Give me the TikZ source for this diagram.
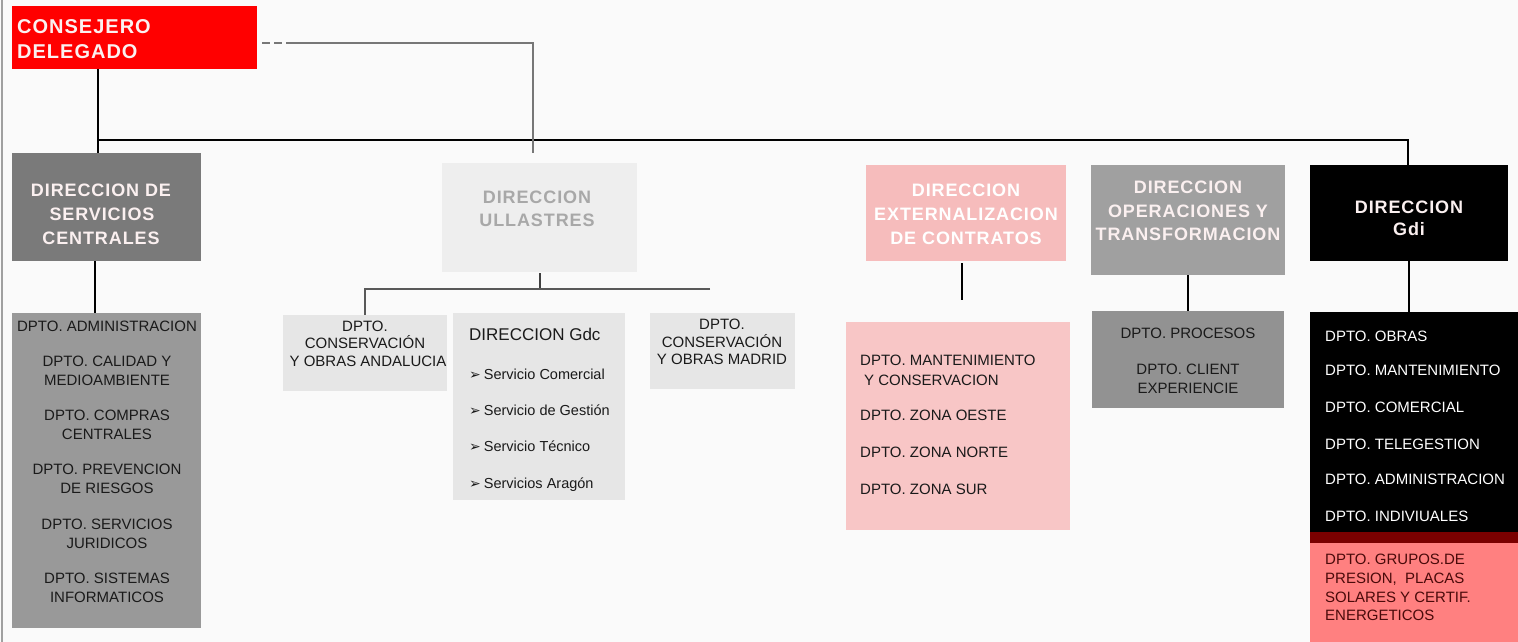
\documentclass[tikz,border=0pt]{standalone}
\usepackage{fontspec}
\setmainfont{Liberation Sans}
\newfontfamily\djv{DejaVu Sans}
\definecolor{bg}{HTML}{FAFAFA}
\definecolor{cdred}{HTML}{FF0000}
\definecolor{dscgray}{HTML}{7A7A7A}
\definecolor{dscdept}{HTML}{999999}
\definecolor{ullfill}{HTML}{EEEEEE}
\definecolor{ulltext}{HTML}{A8A8A8}
\definecolor{subfill}{HTML}{E6E6E6}
\definecolor{extfill}{HTML}{F6BCBC}
\definecolor{extdept}{HTML}{F8C6C6}
\definecolor{opfill}{HTML}{A0A0A0}
\definecolor{procfill}{HTML}{929292}
\definecolor{darkband}{HTML}{7A0000}
\definecolor{salmon}{HTML}{FF8080}
\definecolor{salmontext}{HTML}{4A0A0A}
\definecolor{headtext}{HTML}{FBF0F0}
\definecolor{depttext}{HTML}{1A1A1A}
\definecolor{ulline}{HTML}{777777}
\newcommand\obox[6]{\node[fill=#2,inner sep=0pt,outer sep=0pt,minimum width={#5-#3},minimum height={#6-#4}] (#1) at ({(#3+#5)/2},{(#4+#6)/2}) {};}
\begin{document}
\begin{tikzpicture}[x=1pt,y=-1pt,
  conn/.style={draw=black,line width=1.6pt},
  head/.style={inner sep=0pt,anchor=base,text=headtext,font=\fontsize{18}{18}\selectfont\bfseries\addfontfeature{LetterSpace=5}},
  dept/.style={inner sep=0pt,anchor=base,text=depttext,font=\fontsize{15}{15}\selectfont},
  deptl/.style={dept,anchor=base west},
  bullet/.style={inner sep=0pt,anchor=base west,text=depttext,font=\fontsize{14.5}{14.5}\selectfont}]
\useasboundingbox (0,0) rectangle (1518,642);
\fill[bg] (0,0) rectangle (1518,642);
\draw[color=opfill,line width=2pt] (2,0) -- (2,642);

% boxes
\obox{cd}{cdred}{12}{6}{257}{69}
\obox{dsc}{dscgray}{12}{153}{201}{261}
\obox{dscd}{dscdept}{12}{313}{201}{628}
\obox{ull}{ullfill}{442}{163}{637}{272}
\obox{and}{subfill}{283}{315}{447}{391}
\obox{gdc}{subfill}{453}{313}{625}{500}
\obox{mad}{subfill}{650}{313}{795}{389}
\obox{ext}{extfill}{866}{165}{1066}{261}
\obox{extd}{extdept}{846}{322}{1070}{530}
\obox{ope}{opfill}{1091}{165}{1285}{275}
\obox{proc}{procfill}{1092}{311}{1284}{408}
\obox{gdi}{black}{1310}{165}{1508}{261}
\obox{gdid}{black}{1310}{312}{1518}{532}
\obox{band}{darkband}{1310}{532}{1518}{543}
\obox{grp}{salmon}{1310}{543}{1518}{642}

% junction coordinates
\coordinate (j0) at (98,140);
\coordinate (j1) at (1408,140);
\coordinate (u0) at (262,43);
\coordinate (u1) at (287,43);
\coordinate (u2) at (533,43);
\coordinate (u3) at (533,153);
\coordinate (k0) at (540,273);
\coordinate (k1) at (540,289);
\coordinate (k2) at (365,289);
\coordinate (k3) at (710,289);
\coordinate (e0) at (962,263);
\coordinate (e1) at (962,300);
\coordinate (s0) at (95,0);

% connectors
\draw[conn] (cd.south -| j0) -- (dsc.north -| j0);
\draw[conn] (j0) -- (j1) -- (gdi.north -| j1);
\draw[color=ulline,line width=1.2pt,dash pattern=on 8pt off 4pt] (u0) -- (u1);
\draw[color=ulline,line width=1.2pt] (u1) -- (u2) -- (u3);
\draw[conn] (dsc.south -| s0) -- (dscd.north -| s0);
\draw[color=black!75,line width=1.6pt] (k0) -- (k1);
\draw[color=black!65,line width=1.5pt] (k3) -- (k2) -- (and.north -| k2);
\draw[conn] (e0) -- (e1);
\draw[conn] (ope.south) -- (proc.north);
\draw[conn] (gdi.south) -- (gdid.north -| gdi.south);

% texts
\node[head,anchor=base west,font=\fontsize{20}{20}\selectfont\bfseries\addfontfeature{LetterSpace=5}] (tcd1) at (17,34) {CONSEJERO};
\node[head,anchor=base west,font=\fontsize{20}{20}\selectfont\bfseries\addfontfeature{LetterSpace=5}] (tcd2) at (17,59) {DELEGADO};

\node[head] (tdsc1) at (101,196.5) {DIRECCION DE};
\node[head] (tdsc2) at (102,220.5) {SERVICIOS};
\node[head] (tdsc3) at (101,244.5) {CENTRALES};

\foreach \t/\y [count=\i] in {DPTO. ADMINISTRACION/331,DPTO. CALIDAD Y/366,MEDIOAMBIENTE/385,DPTO. COMPRAS/420,CENTRALES/439,DPTO. PREVENCION/474,DE RIESGOS/493,DPTO. SERVICIOS/529,JURIDICOS/548,DPTO. SISTEMAS/583,INFORMATICOS/602}
  \node[dept] (tdscd\i) at (107,\y) {\t};

\node[head,text=ulltext] (tull1) at (537,203.5) {DIRECCION};
\node[head,text=ulltext] (tull2) at (537,226.5) {ULLASTRES};

\node[dept] (tand1) at (365,331) {DPTO.};
\node[dept] (tand2) at (365,348) {CONSERVACIÓN};
\node[dept] (tand3) at (368,366) {Y OBRAS ANDALUCIA};

\node[bullet,font=\fontsize{17}{17}\selectfont] (tgdc0) at (469,340) {DIRECCION Gdc};
\foreach \t/\y [count=\i] in {Servicio Comercial/379,Servicio de Gestión/415,Servicio Técnico/451,Servicios Aragón/488}
  \node[bullet] (tgdc\i) at (469,\y) {{\djv\fontsize{14}{14}\selectfont ➢}\hspace{3pt}\t};

\node[dept] (tmad1) at (722,329) {DPTO.};
\node[dept] (tmad2) at (722,347) {CONSERVACIÓN};
\node[dept] (tmad3) at (722,364) {Y OBRAS MADRID};

\node[head,text=white] (text1) at (966,196.5) {DIRECCION};
\node[head,text=white] (text2) at (966,220.5) {EXTERNALIZACION};
\node[head,text=white] (text3) at (966,244.5) {DE CONTRATOS};

\node[deptl] (textd1) at (860,365) {DPTO. MANTENIMIENTO};
\node[deptl] (textd2) at (864,385) {Y CONSERVACION};
\node[deptl] (textd3) at (860,420) {DPTO. ZONA OESTE};
\node[deptl] (textd4) at (860,457) {DPTO. ZONA NORTE};
\node[deptl] (textd5) at (860,494) {DPTO. ZONA SUR};

\node[head] (tope1) at (1188,193.5) {DIRECCION};
\node[head] (tope2) at (1188,217.5) {OPERACIONES Y};
\node[head] (tope3) at (1188,240.5) {TRANSFORMACION};

\node[dept] (tproc1) at (1188,338) {DPTO. PROCESOS};
\node[dept] (tproc2) at (1188,374) {DPTO. CLIENT};
\node[dept] (tproc3) at (1188,393) {EXPERIENCIE};

\node[head] (tgdi1) at (1409,213.5) {DIRECCION};
\node[head] (tgdi2) at (1409,235.5) {Gdi};

\foreach \t/\y [count=\i] in {DPTO. OBRAS/341,DPTO. MANTENIMIENTO/375,DPTO. COMERCIAL/412,DPTO. TELEGESTION/449,DPTO. ADMINISTRACION/484,DPTO. INDIVIUALES/521}
  \node[deptl,text=white] (tgdid\i) at (1325,\y) {\t};

\node[deptl,text=salmontext] (tgrp1) at (1325,564) {DPTO. GRUPOS.DE};
\node[deptl,text=salmontext] (tgrp2) at (1325,583) {PRESION,\ \ PLACAS};
\node[deptl,text=salmontext] (tgrp3) at (1325,602) {SOLARES Y CERTIF.};
\node[deptl,text=salmontext] (tgrp4) at (1325,620) {ENERGETICOS};
\end{tikzpicture}
\end{document}
